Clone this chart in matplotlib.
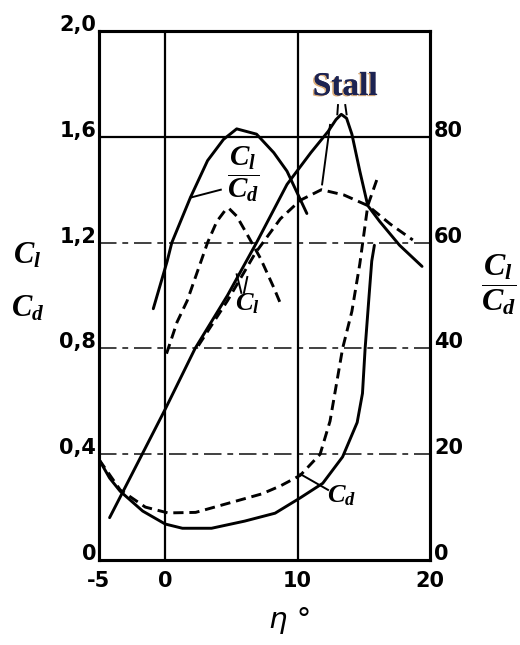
import numpy as np
import matplotlib
matplotlib.use('Agg')
import matplotlib.pyplot as plt
import matplotlib.patheffects as pe

plt.rcParams['mathtext.fontset'] = 'custom'
plt.rcParams['mathtext.it'] = 'Liberation Serif:italic:bold'
plt.rcParams['mathtext.rm'] = 'Liberation Serif:bold'

# profil - wspolczynnik sily nosnej (os lewa)
cl_x = [-4.2, -1.74, 0.0, 2.26, 4.7, 6.9, 9.2, 11.0, 12.3, 12.9, 13.3, 13.7, 14.1, 14.7, 15.3, 16.2, 17.7, 19.4]
cl_y = [0.16, 0.40, 0.57, 0.80, 1.00, 1.20, 1.42, 1.54, 1.62, 1.665, 1.685, 1.67, 1.61, 1.47, 1.34, 1.28, 1.19, 1.11]

cl2_x = [2.5, 4.7, 6.8, 8.7, 10.2, 11.8, 13.5, 15.3, 17.0, 18.7]
cl2_y = [0.81, 0.98, 1.16, 1.29, 1.36, 1.40, 1.38, 1.34, 1.27, 1.21]

# wspolczynnik oporu (os lewa)
cd_x = [-5.0, -4.2, -3.4, -1.7, 0.0, 1.3, 3.5, 6.0, 8.3, 10.2, 11.9, 13.4, 14.5, 14.9, 15.1, 15.4, 15.6, 15.8]
cd_y = [0.38, 0.31, 0.26, 0.185, 0.136, 0.12, 0.12, 0.147, 0.177, 0.235, 0.29, 0.39, 0.52, 0.63, 0.80, 1.00, 1.13, 1.19]

cd2_x = [-5.0, -3.4, -1.5, 0.2, 2.3, 4.8, 7.3, 8.7, 10.2, 11.7, 12.45, 13.4, 14.1, 14.7, 15.3, 16.0]
cd2_y = [0.38, 0.265, 0.20, 0.178, 0.18, 0.215, 0.25, 0.28, 0.32, 0.40, 0.525, 0.80, 0.94, 1.12, 1.34, 1.44]

# doskonalosc Cl/Cd (os prawa)
ld_x = [-0.9, 0.15, 0.5, 1.9, 3.2, 4.4, 5.4, 6.9, 8.2, 9.2, 10.7]
ld_y = [47.5, 56.5, 60.0, 68.5, 75.5, 79.5, 81.5, 80.5, 77.0, 73.5, 65.5]

ld2_x = [0.1, 0.9, 1.66, 3.2, 3.9, 4.5, 4.8, 5.4, 6.2, 7.2, 8.2, 8.7]
ld2_y = [39.0, 45.0, 49.0, 60.0, 64.0, 66.0, 66.5, 65.0, 61.5, 57.0, 51.5, 48.5]

# osie
x_ticks = [-5, 0, 10, 20]
x_labels = ['-5', '0', '10', '20']
y_ticks = [0, 0.4, 0.8, 1.2, 1.6, 2.0]
y_labels = ['0', '0,4', '0,8', '1,2', '1,6', '2,0']
y2_ticks = [0, 20, 40, 60, 80]
y2_labels = ['0', '20', '40', '60', '80']
siatka_ciagla_y = [1.6]
siatka_kreska_y = [0.4, 0.8, 1.2]
siatka_x = [0, 10]

fig = plt.figure(figsize=(5.2, 6.45), dpi=100)
ax = fig.add_axes([99/520, 1 - 560/645, 331/520, 529/645])
ax.set_xlim(-5, 20)
ax.set_ylim(0, 2.0)
ax2 = ax.twinx()
ax2.set_ylim(0, 100)

for s in ax.spines.values():
    s.set_linewidth(2.2)
for s in ax2.spines.values():
    s.set_linewidth(2.2)

# siatka
for y in siatka_ciagla_y:
    ax.axhline(y, color='black', lw=1.6, zorder=1)
for y in siatka_kreska_y:
    ax.axhline(y, color='0.25', lw=1.4, linestyle=(0, (9, 3, 3, 3)), zorder=1)
for x in siatka_x:
    ax.axvline(x, color='black', lw=1.6, zorder=1)

# etykiety osi
cyfry = dict(family='DejaVu Sans', weight='bold', fontsize=15)
ax.set_xticks(x_ticks)
ax.set_xticklabels(x_labels, **cyfry)
ax.tick_params(axis='x', length=0, pad=8)
ax.set_yticks(y_ticks)
ax.set_yticklabels(y_labels, va='baseline', **cyfry)
ax.tick_params(axis='y', length=0, pad=2)
ax2.set_yticks(y2_ticks)
ax2.set_yticklabels(y2_labels, va='baseline', **cyfry)
ax2.tick_params(axis='y', length=0, pad=3)

# krzywe
ciagla = dict(color='black', lw=2.1, solid_capstyle='round', zorder=3)
kreska = dict(color='black', lw=2.1, linestyle=(0, (3.5, 2)), zorder=3)
ax.plot(cl_x, cl_y, **ciagla)
ax.plot(cl2_x, cl2_y, **kreska)
ax.plot(cd_x, cd_y, **ciagla)
ax.plot(cd2_x, cd2_y, **kreska)
ax2.plot(ld_x, ld_y, **ciagla)
ax2.plot(ld2_x, ld2_y, **kreska)

# odnosniki do krzywych
odn = dict(color='black', lw=1.4, zorder=3)
ax.plot([1.9, 4.2], [1.37, 1.40], **odn)
ax.plot([5.4, 5.75], [1.08, 1.01], **odn)
ax.plot([6.2, 5.95], [1.07, 1.01], **odn)
ax.plot([10.2, 12.3], [0.325, 0.265], **odn)
ax.plot([12.45, 11.85], [1.645, 1.42], **odn)
ax.plot([13.05, 13.0], [1.72, 1.685], **odn)
ax.plot([13.6, 13.7], [1.72, 1.685], **odn)

# opisy
ax.text(5.9, 1.46, r'$\dfrac{C_l}{C_d}$', fontsize=21, ha='center', va='center', zorder=4)
ax.text(6.2, 0.97, r'$C_l$', fontsize=19, ha='center', va='center', zorder=4)
ax.text(13.3, 0.245, r'$C_d$', fontsize=19, ha='center', va='center', zorder=4)

ax.text(13.6, 1.79, 'Stall', family='Liberation Serif', weight='bold', fontsize=24,
        color='#1c2352', ha='center', va='center', zorder=5,
        path_effects=[pe.withSimplePatchShadow(offset=(-1.2, -0.8), shadow_rgbFace='#d9a46a', alpha=0.9),
                      pe.Normal()])

fig.text(27/520, 1 - 255/645, r'$C_l$', fontsize=22, ha='center', va='center')
fig.text(28/520, 1 - 308/645, r'$C_d$', fontsize=22, ha='center', va='center')
fig.text(499/520, 1 - 285/645, r'$\dfrac{C_l}{C_d}$', fontsize=23, ha='center', va='center')
fig.text(290/520, 1 - 620/645, 'η °', family='DejaVu Sans', style='italic', fontsize=21,
         ha='center', va='center')

fig.savefig('out.png', dpi=100)
